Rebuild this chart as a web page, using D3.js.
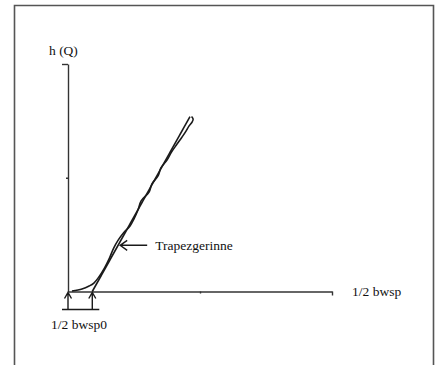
<!DOCTYPE html>
<html>
<head>
<meta charset="utf-8">
<script src="https://cdn.jsdelivr.net/npm/d3@7"></script>
<style>
    body { margin: 0; background: #fff; }
    text { font-family: "Liberation Serif", "Times New Roman", serif; fill: #111; }
</style>
</head>
<body>
<div id="chart"></div>
<script>
//Datos (unidades del esquema)
const axisTicks = [5, 10];
const bwsp0 = 0.92;
//Trapezgerinne (recta)
const trapezX = [0.92, 4.62];
const trapezY = [0, 7.69];
//Curva medida
const curveX = [0.15, 0.53, 0.80, 0.98, 1.17, 1.38, 1.57, 1.73, 1.90, 2.10, 2.35, 2.50, 2.65, 2.77, 3.07, 3.18, 3.41, 3.52, 3.75, 3.92, 4.13, 4.32, 4.47, 4.58, 4.70, 4.74, 4.68];
const curveY = [0.02, 0.11, 0.24, 0.37, 0.64, 1.03, 1.47, 1.91, 2.26, 2.57, 2.88, 3.19, 3.58, 3.98, 4.37, 4.73, 5.08, 5.43, 5.78, 6.13, 6.48, 6.79, 7.05, 7.27, 7.45, 7.58, 7.69];
const labels = { y: 'h (Q)', x: '1/2 bwsp', x0: '1/2 bwsp0', line: 'Trapezgerinne' };

const W = 435, H = 365;
const svg = d3.select('#chart').append('svg')
    .attr('width', W)
    .attr('height', H);

//Marco
svg.append('path')
    .attr('d', 'M14.5,' + H + 'V5.5H433.5V' + H)
    .attr('fill', 'none')
    .attr('stroke', '#555')
    .attr('stroke-width', 1.6);

let x = d3.scaleLinear().domain([0, 10]).range([68, 332]);
let y = d3.scaleLinear().domain([0, 10]).range([291.5, 64]);

//Ejes
let xAxis = svg.append('g')
    .attr('transform', 'translate(0,' + y(0) + ')')
    .call(d3.axisBottom(x).tickValues(axisTicks).tickSize(4).tickSizeOuter(0).tickFormat(''));
xAxis.selectAll('.tick line').attr('y2', function(d) { return d == 5 ? 2 : 4; });

let yAxis = svg.append('g')
    .attr('transform', 'translate(' + x(0) + ',0)')
    .call(d3.axisLeft(y).tickValues(axisTicks).tickSize(6).tickSizeOuter(0).tickFormat(''));
yAxis.selectAll('.tick line').attr('x2', function(d) { return d == 5 ? -2 : -6; });

svg.selectAll('.domain, .tick line')
    .attr('stroke', '#333')
    .attr('stroke-width', 1.4);

//Líneas
let line = d3.line()
    .x(function(d) { return x(d[0]); })
    .y(function(d) { return y(d[1]); });

svg.append('path')
    .datum(d3.zip(trapezX, trapezY))
    .attr('d', line)
    .attr('fill', 'none')
    .attr('stroke', '#1a1a1a')
    .attr('stroke-width', 1.6);

svg.append('path')
    .datum(d3.zip(curveX, curveY))
    .attr('d', line.curve(d3.curveCatmullRom))
    .attr('fill', 'none')
    .attr('stroke', '#1a1a1a')
    .attr('stroke-width', 1.6);

//Flechas bwsp0
const yArrow = y(0) + 18;
[0, bwsp0].forEach(function(v) {
    let px = x(v);
    svg.append('path')
        .attr('d', 'M' + px + ',' + yArrow + 'V' + (y(0) + 1) + 'M' + (px - 3.5) + ',' + (y(0) + 7) + 'L' + px + ',' + (y(0) + 1) + 'L' + (px + 3.5) + ',' + (y(0) + 7))
        .attr('fill', 'none')
        .attr('stroke', '#1a1a1a')
        .attr('stroke-width', 1.4);
});
svg.append('line')
    .attr('x1', x(0) - 6).attr('x2', x(bwsp0) + 7)
    .attr('y1', yArrow).attr('y2', yArrow)
    .attr('stroke', '#1a1a1a')
    .attr('stroke-width', 1.4);

//Flecha Trapezgerinne
let tipY = 2.03;
let tipX = trapezX[0] + (trapezX[1] - trapezX[0]) * tipY / trapezY[1] + 0.08;
let tx = x(tipX), ty = y(tipY);
svg.append('path')
    .attr('d', 'M' + (tx + 27) + ',' + ty + 'H' + tx + 'M' + (tx + 7) + ',' + (ty - 5) + 'L' + tx + ',' + ty + 'L' + (tx + 7) + ',' + (ty + 5))
    .attr('fill', 'none')
    .attr('stroke', '#1a1a1a')
    .attr('stroke-width', 1.4);

//Textos
svg.append('text').attr('x', 49).attr('y', 55).attr('font-size', 13.5).text(labels.y);
svg.append('text').attr('x', 352).attr('y', 296).attr('font-size', 13.5).text(labels.x);
svg.append('text').attr('x', 51).attr('y', 329).attr('font-size', 13.5).text(labels.x0);
svg.append('text').attr('x', tx + 35).attr('y', ty + 4.5).attr('font-size', 13.5).text(labels.line);
</script>
</body>
</html>
